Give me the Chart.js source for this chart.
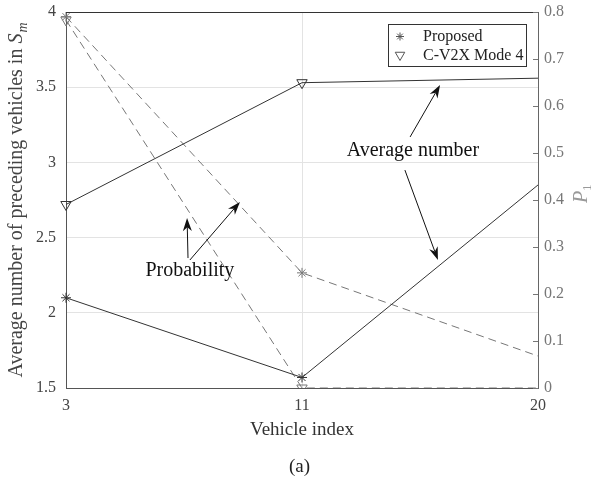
<!DOCTYPE html>
<html>
<head>
<meta charset="utf-8">
<script src="https://cdn.jsdelivr.net/npm/chart.js@4/dist/chart.umd.min.js"></script>
<style>
  body { margin: 0; background: #fff; }
</style>
</head>
<body>
<canvas id="chart" width="599" height="483"></canvas>
<script>
// data
const vehicles = ['3', '11', '20'];
const avgProposed = [2.10, 1.57, 2.85];
const avgMode4 = [2.72, 3.53, 3.56];
const probProposed = [0.79, 0.245, 0.068];
const probMode4 = [0.783, 0, 0];
const leftTicks = [1.5, 2, 2.5, 3, 3.5, 4];
const rightTicks = [0, 0.1, 0.2, 0.3, 0.4, 0.5, 0.6, 0.7, 0.8];

// annotations in data units (x = category index, y = left axis)
const notes = [
    { text: 'Average number', x: 1.47, y: 3.08 },
    { text: 'Probability', x: 0.525, y: 2.278 }
];
const arrows = [
    [1.458, 3.169, 1.585, 3.515],
    [1.436, 2.949, 1.576, 2.351],
    [0.517, 2.364, 0.513, 2.630],
    [0.525, 2.351, 0.737, 2.737]
];

const serif = 'Liberation Serif';
const dark = '#333';
const grey = '#777';

function drawArrow(ctx, x1, y1, x2, y2) {
    const a = Math.atan2(y2 - y1, x2 - x1);
    const len = 13, w = 4.5;
    ctx.beginPath();
    ctx.moveTo(x1, y1);
    ctx.lineTo(x2 - Math.cos(a) * len * 0.7, y2 - Math.sin(a) * len * 0.7);
    ctx.stroke();
    ctx.save();
    ctx.translate(x2, y2);
    ctx.rotate(a);
    ctx.beginPath();
    ctx.moveTo(0, 0);
    ctx.lineTo(-len, -w);
    ctx.lineTo(-len * 0.7, 0);
    ctx.lineTo(-len, w);
    ctx.closePath();
    ctx.fill();
    ctx.restore();
}

function star(ctx, x, y, r) {
    ctx.beginPath();
    for (let k = 0; k < 4; k++) {
        const a = k * Math.PI / 4;
        ctx.moveTo(x - Math.cos(a) * r, y - Math.sin(a) * r);
        ctx.lineTo(x + Math.cos(a) * r, y + Math.sin(a) * r);
    }
    ctx.stroke();
}

function triDown(ctx, x, y, r) {
    ctx.beginPath();
    ctx.moveTo(x, y + r);
    ctx.lineTo(x - r * 0.866, y - r / 2);
    ctx.lineTo(x + r * 0.866, y - r / 2);
    ctx.closePath();
    ctx.stroke();
}

const extras = {
    id: 'extras',
    afterDraw(chart) {
        const ctx = chart.ctx;
        const a = chart.chartArea;
        const yl = chart.scales.y, yr = chart.scales.y1;
        const px = v => a.left + v * (a.right - a.left) / (vehicles.length - 1);

        ctx.save();
        ctx.lineWidth = 1;

        // top frame line
        ctx.strokeStyle = dark;
        ctx.beginPath();
        ctx.moveTo(a.left, a.top + 0.5);
        ctx.lineTo(a.right, a.top + 0.5);
        ctx.stroke();

        // inward ticks on right axis
        ctx.strokeStyle = grey;
        rightTicks.forEach(t => {
            const y = Math.round(yr.getPixelForValue(t)) + 0.5;
            ctx.beginPath();
            ctx.moveTo(a.right - 5, y);
            ctx.lineTo(a.right, y);
            ctx.stroke();
        });

        // left y title with S_m
        ctx.save();
        ctx.translate(17, (a.top + a.bottom) / 2);
        ctx.rotate(-Math.PI / 2);
        ctx.fillStyle = '#444';
        ctx.textBaseline = 'middle';
        const main = 'Average number of preceding vehicles in ';
        ctx.font = '20px "' + serif + '"';
        const w1 = ctx.measureText(main).width;
        ctx.font = 'italic 20px "' + serif + '"';
        const w2 = ctx.measureText('S').width;
        ctx.font = 'italic 14px "' + serif + '"';
        const w3 = ctx.measureText('m').width;
        let x0 = -(w1 + w2 + w3 + 1) / 2;
        ctx.font = '20px "' + serif + '"';
        ctx.fillText(main, x0, 0);
        ctx.font = 'italic 20px "' + serif + '"';
        ctx.fillText('S', x0 + w1, 0);
        ctx.font = 'italic 14px "' + serif + '"';
        ctx.fillText('m', x0 + w1 + w2 + 1, 6);
        ctx.restore();

        // right y title P_1
        ctx.save();
        ctx.translate(582, (a.top + a.bottom) / 2 - 6);
        ctx.rotate(-Math.PI / 2);
        ctx.fillStyle = '#999';
        ctx.textBaseline = 'middle';
        ctx.font = 'italic 20px "' + serif + '"';
        const wp = ctx.measureText('P').width;
        ctx.fillText('P', -(wp + 6) / 2, 0);
        ctx.font = '13px "' + serif + '"';
        ctx.fillText('1', -(wp + 6) / 2 + wp, 6);
        ctx.restore();

        // legend box
        const lx = a.right - 150, ly = a.top + 12, lw = 138, lh = 42;
        ctx.fillStyle = '#fff';
        ctx.fillRect(lx, ly, lw, lh);
        ctx.strokeStyle = dark;
        ctx.strokeRect(lx + 0.5, ly + 0.5, lw, lh);
        ctx.strokeStyle = '#555';
        star(ctx, lx + 12, ly + 12.5, 4);
        triDown(ctx, lx + 12, ly + 31, 5.5);
        ctx.fillStyle = '#222';
        ctx.font = '16px "' + serif + '"';
        ctx.textBaseline = 'middle';
        ctx.textAlign = 'left';
        ctx.fillText(chart.data.datasets[0].label, lx + 35, ly + 13);
        ctx.fillText(chart.data.datasets[1].label, lx + 35, ly + 32);

        // annotations
        ctx.fillStyle = '#111';
        ctx.strokeStyle = '#111';
        ctx.font = '20px "' + serif + '"';
        ctx.textAlign = 'center';
        notes.forEach(n => {
            ctx.fillText(n.text, px(n.x), yl.getPixelForValue(n.y));
        });
        arrows.forEach(r => {
            drawArrow(ctx, px(r[0]), yl.getPixelForValue(r[1]), px(r[2]), yl.getPixelForValue(r[3]));
        });

        ctx.restore();
    }
};

const chart = document.querySelector('#chart').getContext('2d');

new Chart(chart, {
    type: 'line',
    data: {
        labels: vehicles,
        datasets: [
            {
                label: 'Proposed',
                data: avgProposed,
                yAxisID: 'y',
                borderColor: dark,
                borderWidth: 1,
                pointStyle: 'star',
                pointRadius: [5, 5, 0],
                pointBorderColor: dark,
                pointBorderWidth: 1,
                fill: false,
                tension: 0
            },
            {
                label: 'C-V2X Mode 4',
                data: avgMode4,
                yAxisID: 'y',
                borderColor: dark,
                borderWidth: 1,
                pointStyle: 'triangle',
                rotation: 180,
                pointRadius: [6, 6, 0],
                pointBackgroundColor: 'rgba(0,0,0,0)',
                pointBorderColor: dark,
                pointBorderWidth: 1,
                fill: false,
                tension: 0
            },
            {
                label: 'Proposed probability',
                data: probProposed,
                yAxisID: 'y1',
                borderColor: grey,
                borderWidth: 1,
                borderDash: [8, 5],
                pointStyle: 'star',
                pointRadius: [5, 5, 0],
                pointBorderColor: grey,
                fill: false,
                tension: 0
            },
            {
                label: 'C-V2X Mode 4 probability',
                data: probMode4,
                yAxisID: 'y1',
                borderColor: grey,
                borderWidth: 1,
                borderDash: [8, 5],
                pointStyle: 'triangle',
                rotation: 180,
                pointRadius: [6, 6, 0],
                pointBackgroundColor: 'rgba(0,0,0,0)',
                pointBorderColor: grey,
                fill: false,
                tension: 0
            }
        ]
    },
    options: {
        responsive: false,
        animation: false,
        layout: { padding: { top: 12, left: 0, right: 0, bottom: 0 } },
        plugins: {
            legend: { display: false },
            tooltip: { enabled: false },
            title: {
                display: true,
                position: 'bottom',
                text: '(a)',
                color: '#222',
                font: { family: serif, size: 19, weight: 'normal' },
                padding: { top: 0, bottom: 5 }
            }
        },
        scales: {
            x: {
                type: 'category',
                offset: false,
                grid: { color: '#e3e3e3', drawTicks: false },
                border: { color: '#555' },
                ticks: { color: '#444', padding: 8, font: { family: serif, size: 16 } },
                title: {
                    display: true,
                    text: 'Vehicle index',
                    color: '#333',
                    font: { family: serif, size: 19 },
                    padding: { top: 0, bottom: 14 }
                },
                afterFit: s => { s.height = 67.2; s.paddingLeft = 0; s.paddingRight = 0; }
            },
            y: {
                position: 'left',
                min: 1.5,
                max: 4,
                grid: { color: '#e3e3e3', drawTicks: false },
                border: { color: '#555' },
                ticks: {
                    color: '#444',
                    padding: 10,
                    font: { family: serif, size: 16 },
                    callback: v => String(v)
                },
                afterBuildTicks: s => { s.ticks = leftTicks.map(v => ({ value: v })); },
                afterFit: s => { s.width = 66; s.paddingTop = 0; s.paddingBottom = 0; }
            },
            y1: {
                position: 'right',
                min: 0,
                max: 0.8,
                grid: { drawOnChartArea: false, drawTicks: false },
                border: { color: '#666' },
                ticks: {
                    color: '#777',
                    padding: 6,
                    font: { family: serif, size: 16 },
                    callback: v => String(v)
                },
                afterBuildTicks: s => { s.ticks = rightTicks.map(v => ({ value: v })); },
                afterFit: s => { s.width = 61; s.paddingTop = 0; s.paddingBottom = 0; }
            }
        }
    },
    plugins: [extras]
});
</script>
</body>
</html>
